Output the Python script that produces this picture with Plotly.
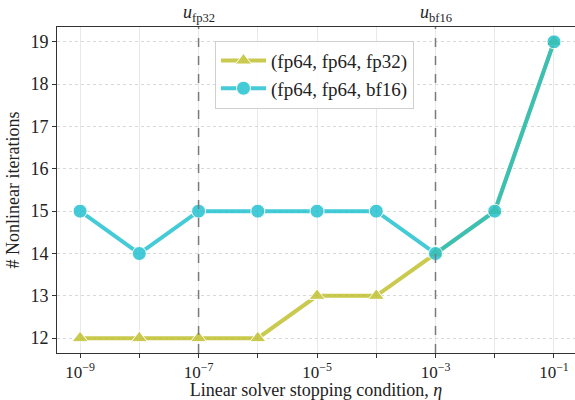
import math
import plotly.graph_objects as go

eta = [1e-9, 1e-8, 1e-7, 1e-6, 1e-5, 1e-4, 1e-3, 1e-2, 1e-1]
iters_fp32 = [12, 12, 12, 12, 13, 13, 14, 15, 19]
iters_bf16 = [15, 14, 15, 15, 15, 15, 14, 15, 19]
name_fp32 = "(fp64, fp64, fp32)"
name_bf16 = "(fp64, fp64, bf16)"
u_fp32 = 1e-7
u_bf16 = 1e-3
x_tickvals = [1e-9, 1e-8, 1e-7, 1e-6, 1e-5, 1e-4, 1e-3, 1e-2, 1e-1]
x_ticktext = ["10<sup>−9</sup>", "", "10<sup>−7</sup>", "", "10<sup>−5</sup>", "",
              "10<sup>−3</sup>", "", "10<sup>−1</sup>"]
y_tickvals = [12, 13, 14, 15, 16, 17, 18, 19]

FONT = "Liberation Serif, DejaVu Serif, serif"
OLIVE = "#bcbd22"
CYAN = "#17becf"
YR = [11.65, 19.35]

fig = go.Figure()
fig.add_trace(go.Scatter(
    x=eta, y=iters_fp32, name=name_fp32, mode="lines+markers",
    line=dict(color=OLIVE, width=4), opacity=0.8,
    marker=dict(symbol="triangle-up", size=14, color=OLIVE,
                line=dict(color="white", width=1)),
))
fig.add_trace(go.Scatter(
    x=eta, y=iters_bf16, name=name_bf16, mode="lines+markers",
    line=dict(color=CYAN, width=4), opacity=0.8,
    marker=dict(symbol="circle", size=14, color=CYAN,
                line=dict(color="white", width=1)),
))
for u in (u_fp32, u_bf16):
    fig.add_trace(go.Scatter(
        x=[u, u], y=YR, mode="lines", showlegend=False, hoverinfo="skip",
        line=dict(color="#7a7a7a", width=1.5, dash="dash"),
    ))

for u, lab in ((u_fp32, "fp32"), (u_bf16, "bf16")):
    fig.add_annotation(x=math.log10(u), y=1, xref="x", yref="paper", yanchor="bottom",
                       text="<i>u</i><sub>" + lab + "</sub>", showarrow=False,
                       font=dict(family=FONT, size=18, color="#222"), yshift=0)

fig.update_layout(
    width=575, height=400,
    margin=dict(l=57, r=0, t=27, b=47, autoexpand=False),
    paper_bgcolor="white", plot_bgcolor="white",
    font=dict(family=FONT, size=16, color="#222"),
    showlegend=True,
    legend=dict(x=0.305, y=0.958, xanchor="left", yanchor="top",
                bgcolor="rgba(255,255,255,0.85)", bordercolor="#d0d0d0",
                borderwidth=1, font=dict(family=FONT, size=19),
                itemwidth=45, tracegroupgap=0),
    hovermode=False,
)
fig.update_xaxes(
    type="log", range=[-9.39, -0.645], automargin=False,
    tickvals=x_tickvals, ticktext=x_ticktext,
    ticks="outside", ticklen=4, tickcolor="#333",
    showline=True, linecolor="#333", linewidth=1, mirror=True,
    showgrid=True, gridcolor="#e8e8e8", gridwidth=1,
    zeroline=False,
    tickfont=dict(family=FONT, size=17),
    title=dict(text="Linear solver stopping condition, <i>η</i>",
               font=dict(family=FONT, size=18), standoff=7),
)
fig.update_yaxes(
    range=YR, tickvals=y_tickvals, automargin=False,
    ticks="outside", ticklen=4, tickcolor="#333",
    showline=True, linecolor="#333", linewidth=1,
    showgrid=True, gridcolor="#d8d8d8", gridwidth=1, griddash="dot",
    zeroline=False,
    tickfont=dict(family=FONT, size=18),
    title=dict(text="# Nonlinear iterations",
               font=dict(family=FONT, size=18), standoff=6),
)

fig.write_html("out.html", config={"displayModeBar": False},
               post_script="document.body.style.margin='0px';")
